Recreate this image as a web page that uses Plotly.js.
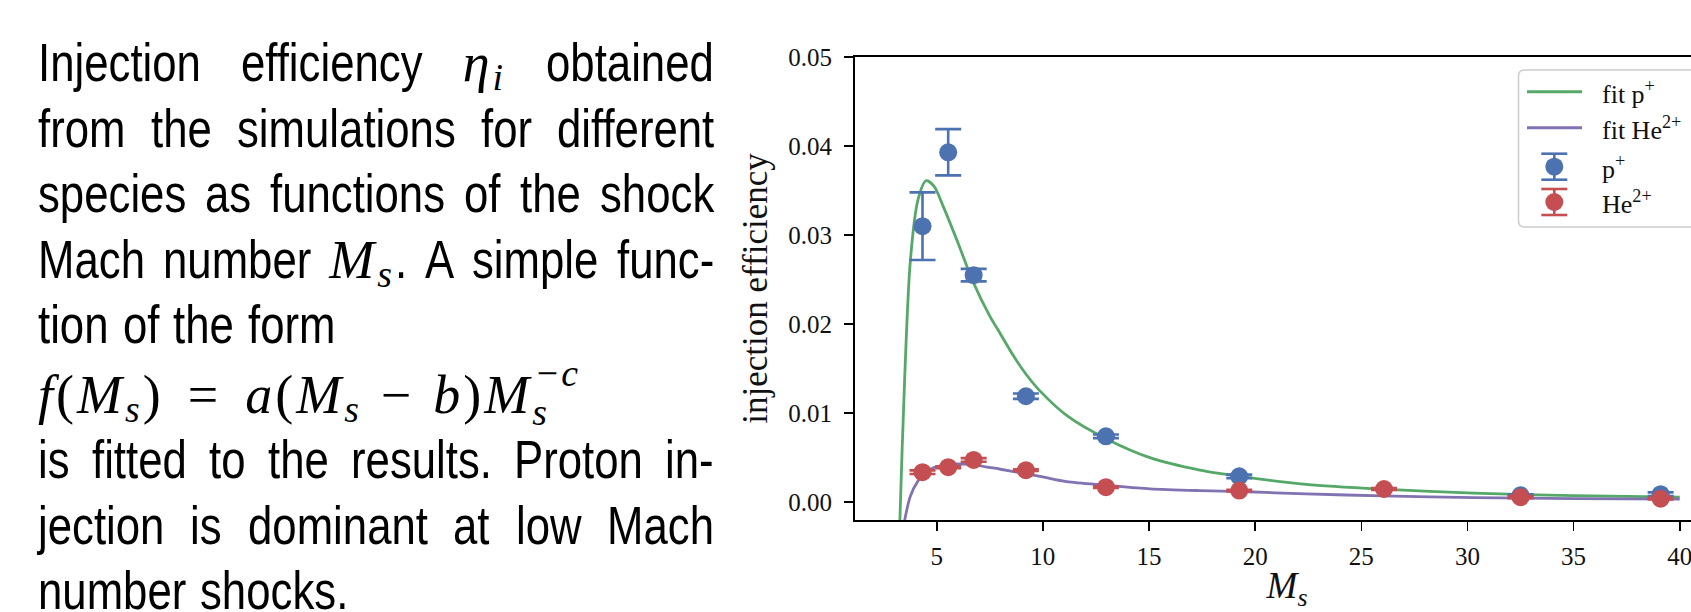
<!DOCTYPE html>
<html>
<head>
<meta charset="utf-8">
<script src="https://cdn.plot.ly/plotly-3.0.1.min.js"></script>
<style>
  html, body { margin:0; padding:0; background:#fff; width:1691px; height:612px; overflow:hidden; }
  #plot { position:absolute; left:0; top:0; width:1760px; height:612px; }
  #para { position:absolute; left:0; top:0; width:740px; height:612px; z-index:5; }
  .line { position:absolute; left:38px; width:676px; display:flex; align-items:baseline;
          font-family:"Liberation Sans", Arial, Helvetica, sans-serif; font-size:54px; line-height:54px;
          color:#000; white-space:nowrap; }
  .line.j { justify-content:space-between; }
  .line.l { justify-content:flex-start; column-gap:14px; }
  .w { display:inline-block; white-space:nowrap; }
  .t { display:inline-block; transform-origin:0 0; }
  .m { font-family:"Liberation Serif", "Times New Roman", serif; font-size:54px; letter-spacing:3px; font-style:normal; }
  .m i { font-style:italic; }
  .m sub { font-size:70%; vertical-align:-0.25em; line-height:0; }
  .bl { display:inline-block; width:0; height:0; }
  .sp1 { display:inline-block; width:24px; }
  .sp2 { display:inline-block; width:19px; }
  .ss { display:inline-block; position:relative; font-size:70%; width:1.25em; height:0.5em; vertical-align:baseline; }
  .ss .up { position:absolute; left:0.12em; top:-1.02em; line-height:0.9; }
  .ss .dn { position:absolute; left:0; top:0.02em; line-height:0.9; }
</style>
</head>
<body>
<div id="plot"></div>
<div id="para"></div>
<script>
// ---------------- data ----------------
// simulation results: proton injection efficiency
const machP   = [4.33, 5.54, 6.74, 9.2, 12.97, 19.25, 32.5, 39.1];
const etaP    = [0.0310, 0.0393, 0.0255, 0.0119, 0.0074, 0.0029, 0.00078, 0.0009];
const errP    = [0.0038, 0.0026, 0.0007, 0.0003, 0.0002, 0.0002, 0.0001, 0.0002];
// simulation results: He2+ injection efficiency
const machHe  = [4.33, 5.54, 6.74, 9.2, 12.97, 19.25, 26.07, 32.5, 39.1];
const etaHe   = [0.00337, 0.00393, 0.00475, 0.0036, 0.00169, 0.0013, 0.00148, 0.00056, 0.0004];
const errHe   = [0.0002, 0.0001, 0.0002, 0.0001, 0.0001, 0.0001, 0.0001, 0.0001, 0.0001];
// fitted curves
const fitMachP = [3.0, 3.374, 3.747, 4.121, 4.495, 4.869, 5.31, 5.94, 6.72, 7.50, 8.0, 8.6, 9.2, 9.86, 11.2, 13.0, 15.04, 17.4, 19.28, 22.4, 26.0, 30.3, 35.0, 40.0];
const fitEtaP  = [-0.022, 0.0062, 0.0268, 0.0340, 0.0361, 0.0355, 0.0332, 0.0295, 0.0247, 0.0209, 0.0189, 0.0165, 0.0144, 0.0125, 0.0096, 0.0071, 0.0050, 0.0036, 0.0029, 0.0020, 0.00146, 0.00101, 0.00074, 0.00057];
const fitMachHe = [3.374, 3.747, 4.121, 4.495, 4.869, 5.242, 5.616, 5.99, 6.72, 8.0, 9.86, 11.12, 13.0, 15.04, 17.4, 19.28, 22.4, 26.0, 30.3, 35.0, 40.0];
const fitEtaHe  = [-0.0035, 0.0006, 0.0024, 0.0034, 0.0039, 0.0041, 0.0043, 0.0043, 0.0042, 0.0037, 0.0029, 0.0023, 0.0019, 0.0015, 0.0013, 0.0012, 0.00093, 0.00071, 0.00052, 0.0004, 0.00034];
// ticks
const xTickVals = [5, 10, 15, 20, 25, 30, 35, 40];
const xTickText = ['5', '10', '15', '20', '25', '30', '35', '40'];
const yTickVals = [0, 0.01, 0.02, 0.03, 0.04, 0.05];
const yTickText = ['0.00', '0.01', '0.02', '0.03', '0.04', '0.05'];
// names
const seriesNames = ['fit p<sup>+</sup>', 'fit He<sup>2+</sup>', 'p<sup>+</sup>', 'He<sup>2+</sup>'];

// ---------------- styles ----------------
const GREEN = '#55A868', PURPLE = '#8172B2', BLUE = '#4C72B0', RED = '#C44E52';
const SERIF = '"Liberation Serif", "Times New Roman", serif';

// plot area geometry in pixels (for legend placement)
const PL = 855, PT = 57, PW = 864, PH = 463;
const px = x => (x - PL) / PW;
const py = y => (PT + PH - y) / PH;

const traces = [
  { x: fitMachP, y: fitEtaP, type: 'scatter', mode: 'lines', name: seriesNames[0],
    line: { color: GREEN, width: 2.8, shape: 'spline', smoothing: 0.8 }, hoverinfo: 'skip' },
  { x: fitMachHe, y: fitEtaHe, type: 'scatter', mode: 'lines', name: seriesNames[1],
    line: { color: PURPLE, width: 2.8, shape: 'spline', smoothing: 0.8 }, hoverinfo: 'skip' },
  { x: machP, y: etaP, type: 'scatter', mode: 'markers', name: seriesNames[2],
    marker: { color: BLUE, size: 18, line: { width: 0 } },
    error_y: { type: 'data', array: errP, visible: true, color: BLUE, thickness: 2.6, width: 13 } },
  { x: machHe, y: etaHe, type: 'scatter', mode: 'markers', name: seriesNames[3],
    marker: { color: RED, size: 18, line: { width: 0 } },
    error_y: { type: 'data', array: errHe, visible: true, color: RED, thickness: 2.6, width: 13 } }
];

// custom matplotlib-like legend
const shapes = [];
const annotations = [];
(function buildLegend() {
  const x0 = 1518.5, x1 = 1706, y0 = 70, y1 = 227, r = 6;
  const rx = r / PW, ry = r / PH;
  const X0 = px(x0), X1 = px(x1), Y0 = py(y0), Y1 = py(y1);
  const path = `M ${X0 + rx},${Y0} L ${X1 - rx},${Y0} Q ${X1},${Y0} ${X1},${Y0 - ry} L ${X1},${Y1 + ry} Q ${X1},${Y1} ${X1 - rx},${Y1} L ${X0 + rx},${Y1} Q ${X0},${Y1} ${X0},${Y1 + ry} L ${X0},${Y0 - ry} Q ${X0},${Y0} ${X0 + rx},${Y0} Z`;
  shapes.push({ type: 'path', xref: 'paper', yref: 'paper', path: path, fillcolor: 'rgba(255,255,255,0.8)',
                line: { color: '#cccccc', width: 1.5 }, layer: 'above' });
  const rows = [91.7, 127.7, 166.7, 202];
  const cols = [GREEN, PURPLE, BLUE, RED];
  for (let i = 0; i < 2; i++) {
    shapes.push({ type: 'line', xref: 'paper', yref: 'paper', x0: px(1527), x1: px(1582), y0: py(rows[i]), y1: py(rows[i]),
                  line: { color: cols[i], width: 3 }, layer: 'above' });
  }
  for (let i = 2; i < 4; i++) {
    const cx = 1554.3, cy = rows[i];
    shapes.push({ type: 'line', xref: 'paper', yref: 'paper', x0: px(cx), x1: px(cx), y0: py(cy - 13), y1: py(cy + 13),
                  line: { color: cols[i], width: 2.6 }, layer: 'above' });
    shapes.push({ type: 'line', xref: 'paper', yref: 'paper', x0: px(cx - 13), x1: px(cx + 13), y0: py(cy - 13), y1: py(cy - 13),
                  line: { color: cols[i], width: 2.6 }, layer: 'above' });
    shapes.push({ type: 'line', xref: 'paper', yref: 'paper', x0: px(cx - 13), x1: px(cx + 13), y0: py(cy + 13), y1: py(cy + 13),
                  line: { color: cols[i], width: 2.6 }, layer: 'above' });
    shapes.push({ type: 'circle', xref: 'paper', yref: 'paper', x0: px(cx - 9), x1: px(cx + 9), y0: py(cy - 9), y1: py(cy + 9),
                  fillcolor: cols[i], line: { width: 0 }, layer: 'above' });
  }
  for (let i = 0; i < 4; i++) {
    annotations.push({ xref: 'paper', yref: 'paper', x: px(1600), y: py(rows[i] + 1), xanchor: 'left', yanchor: 'middle',
                       text: seriesNames[i], showarrow: false, font: { family: SERIF, size: 26, color: '#111' } });
  }
})();

const axisCommon = {
  ticks: 'outside', ticklen: 9, tickwidth: 1.6, tickcolor: '#000',
  showline: true, linecolor: '#000', linewidth: 2, mirror: true,
  showgrid: false, zeroline: false, automargin: false,
  tickfont: { family: SERIF, size: 25, color: '#111' }
};

const layout = {
  width: 1760, height: 612,
  margin: { l: PL, r: 1760 - PL - PW, t: PT, b: 612 - PT - PH },
  paper_bgcolor: '#ffffff', plot_bgcolor: '#ffffff',
  showlegend: false,
  font: { family: SERIF, color: '#000' },
  xaxis: Object.assign({}, axisCommon, {
    range: [1.15, 41.85], tickmode: 'array', tickvals: xTickVals, ticktext: xTickText,
    ticklabelstandoff: 4,
    title: { text: '<i>M</i><sub><i>s</i></sub>', font: { family: SERIF, size: 37, color: '#111' }, standoff: 6 }
  }),
  yaxis: Object.assign({}, axisCommon, {
    range: [-0.002, 0.05], tickmode: 'array', tickvals: yTickVals, ticktext: yTickText,
    ticklabelstandoff: 7,
    title: { text: 'injection efficiency', font: { family: SERIF, size: 35, color: '#111' }, standoff: 10 }
  }),
  shapes: shapes,
  annotations: annotations
};

Plotly.newPlot('plot', traces, layout, { staticPlot: true, displayModeBar: false });

// ---------------- caption text (left) ----------------
const MS = '<i>M</i><sub><i>s</i></sub>';
const FORMULA = '<i>f</i>(' + MS + ')<span class="sp1"></span>=<span class="sp1"></span><i>a</i>(' + MS +
  '<span class="sp2"></span>−<span class="sp2"></span><i>b</i>)<i>M</i><span class="ss"><span class="up">−<i>c</i></span><span class="dn"><i>s</i></span></span>';
const captionLines = [
  { b: 81.0,  j: true,  w: ['Injection', 'efficiency', [['m', '<i>η</i><sub><i>i</i></sub>']], 'obtained'] },
  { b: 146.6, j: true,  w: ['from', 'the', 'simulations', 'for', 'different'] },
  { b: 212.2, j: true,  w: ['species', 'as', 'functions', 'of', 'the', 'shock'] },
  { b: 277.8, j: true,  w: ['Mach', 'number', [['m', MS], ['t', '.']], 'A', 'simple', 'func-'] },
  { b: 343.4, j: false, w: ['tion', 'of', 'the', 'form'] },
  { b: 413.0, j: false, w: [[['m', FORMULA]]] },
  { b: 478.0, j: true,  w: ['is', 'fitted', 'to', 'the', 'results.', 'Proton', 'in-'] },
  { b: 543.6, j: true,  w: ['jection', 'is', 'dominant', 'at', 'low', 'Mach'] },
  { b: 609.2, j: false, w: ['number', 'shocks.'] }
];
const CONDENSE = 0.81;

function buildCaption() {
  const para = document.getElementById('para');
  captionLines.forEach(ln => {
    const div = document.createElement('div');
    div.className = 'line ' + (ln.j ? 'j' : 'l');
    div.style.top = '0px';
    ln.w.forEach((word, wi) => {
      const w = document.createElement('span');
      w.className = 'w';
      if (wi === 0) {
        const bl = document.createElement('span');
        bl.className = 'bl';
        w.appendChild(bl);
      }
      const segs = (typeof word === 'string') ? [['t', word]] : word;
      segs.forEach(s => {
        const sp = document.createElement('span');
        if (s[0] === 't') { sp.className = 't'; sp.textContent = s[1]; }
        else { sp.className = 'm'; sp.innerHTML = s[1]; }
        w.appendChild(sp);
      });
      div.appendChild(w);
    });
    para.appendChild(div);
  });
  // condense the sans-serif text horizontally
  document.querySelectorAll('#para .t').forEach(sp => {
    const wd = sp.getBoundingClientRect().width;
    sp.style.width = (wd * CONDENSE) + 'px';
    sp.style.transform = 'scaleX(' + CONDENSE + ')';
  });
  // place each line on its baseline
  document.querySelectorAll('#para .line').forEach((div, i) => {
    const bl = div.querySelector('.bl');
    const cur = bl.getBoundingClientRect().bottom;
    div.style.top = (captionLines[i].b - cur) + 'px';
  });
}
buildCaption();
</script>
</body>
</html>
